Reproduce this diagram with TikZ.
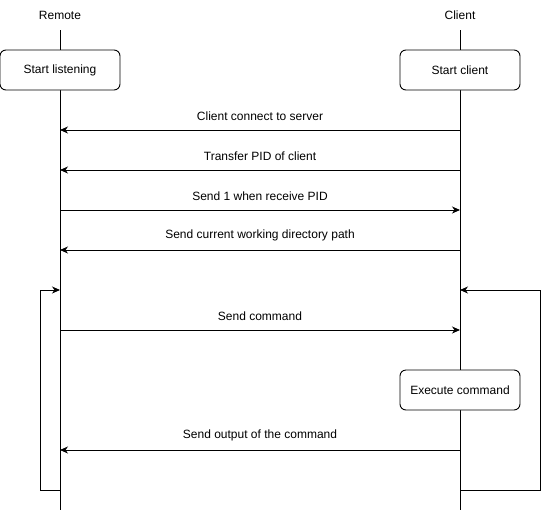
\documentclass[tikz,border=0pt]{standalone}
\usepackage{fontspec}
\setmainfont{Liberation Sans}
\usetikzlibrary{arrows.meta}
\begin{document}
\begin{tikzpicture}[x=1pt,y=-1pt,
  every node/.style={font=\fontsize{12}{14}\selectfont},
  actbox/.style={draw, rounded corners=6pt, fill=white, minimum width=120pt, minimum height=40pt, line width=0.9pt},
  life/.style={line width=0.9pt},
  msg/.style={line width=0.9pt, -{Stealth[length=8pt,width=7pt,inset=2.5pt]}},
  lbl/.style={inner sep=0pt}]
\useasboundingbox (0,0) rectangle (541,512);
% headers
\node[lbl] (remote) at (60,15) {Remote};
\node[lbl] (client) at (460,15) {Client};
% lifeline coordinates
\coordinate (ltop) at (60,30);
\coordinate (lbot) at (60,510);
\coordinate (rtop) at (460,30);
\coordinate (rbot) at (460,510);
\draw[life] (ltop) -- (lbot);
\draw[life] (rtop) -- (rbot);
% boxes
\node[actbox] (listen) at (60,70) {Start listening};
\node[actbox] (start) at (460,70) {Start client};
\node[actbox] (exec) at (460,390) {Execute command};
% message points
\foreach \n/\y in {1/130,2/170,3/210,4/250,5/330,6/450,7/290,8/490}{
  \coordinate (L\n) at (60,\y);
  \coordinate (R\n) at (460,\y);
}
\draw[msg] (R1) -- node[lbl, above=9pt] {Client connect to server} (L1);
\draw[msg] (R2) -- node[lbl, above=9pt] {Transfer PID of client} (L2);
\draw[msg] (L3) -- node[lbl, above=9pt] {Send 1 when receive PID} (R3);
\draw[msg] (R4) -- node[lbl, above=9pt] {Send current working directory path} (L4);
\draw[msg] (L5) -- node[lbl, above=9pt] {Send command} (R5);
\draw[msg] (R6) -- node[lbl, above=9pt] {Send output of the command} (L6);
% loops
\draw[msg] (L8) -- ++(-20,0) |- (L7);
\draw[msg] (R8) -- ++(80,0) |- (R7);
\end{tikzpicture}
\end{document}
